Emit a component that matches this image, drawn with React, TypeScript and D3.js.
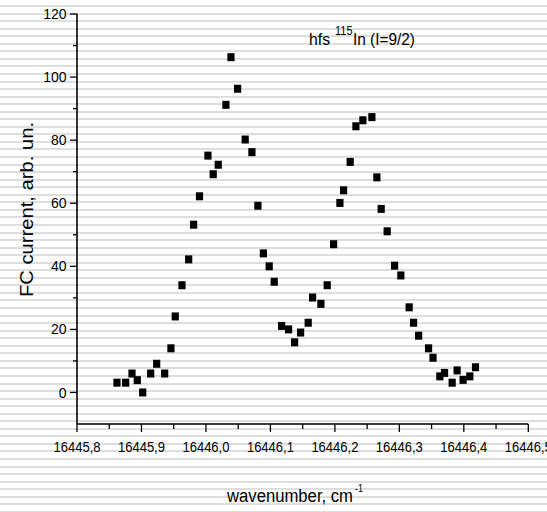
import React from 'react';
import * as d3 from 'd3';

const wavenumbers = [
  16445.862, 16445.8755, 16445.8853, 16445.8935, 16445.9019, 16445.9143, 16445.9236, 16445.936,
  16445.9457, 16445.9524, 16445.9628, 16445.9732, 16445.9809, 16445.99, 16446.0031, 16446.0113,
  16446.0191, 16446.031, 16446.0388, 16446.0491, 16446.0609, 16446.0713, 16446.0806, 16446.0891,
  16446.0981, 16446.1059, 16446.1174, 16446.1282, 16446.1375, 16446.1468, 16446.1586, 16446.1654,
  16446.1783, 16446.1881, 16446.198, 16446.2078, 16446.2135, 16446.2237, 16446.2326, 16446.2434,
  16446.2574, 16446.2651, 16446.2718, 16446.2811, 16446.2926, 16446.3023, 16446.3152, 16446.322,
  16446.3299, 16446.3453, 16446.3522, 16446.3628, 16446.3701, 16446.3819, 16446.3896, 16446.3989,
  16446.4093, 16446.4181,
];
const current = [
  3.1, 3.1, 6.0, 3.9, 0, 6.0, 9.1, 6.0,
  14.0, 24.1, 34.0, 42.2, 53.2, 62.2, 75.1, 69.2,
  72.2, 91.2, 106.3, 96.3, 80.2, 76.2, 59.2, 44.1,
  40.0, 35.1, 21.1, 20.0, 15.9, 19.0, 22.1, 30.1,
  28.1, 34.0, 47.0, 60.1, 64.1, 73.1, 84.4, 86.3,
  87.3, 68.2, 58.2, 51.1, 40.2, 37.1, 27.0, 22.1,
  18.0, 14.0, 11.0, 5.1, 6.2, 3.1, 7.0, 4.0,
  5.1, 8.0,
];
const xTicks = [16445.8, 16445.9, 16446.0, 16446.1, 16446.2, 16446.3, 16446.4, 16446.5];
const xTickLabels = ['16445,8', '16445,9', '16446,0', '16446,1', '16446,2', '16446,3', '16446,4', '16446,5'];
const xMinor = [16445.85, 16445.95, 16446.05, 16446.15, 16446.25, 16446.35, 16446.45];
const yTicks = [0, 20, 40, 60, 80, 100, 120];
const yMinor = [10, 30, 50, 70, 90, 110];

const FONT = "'Liberation Sans', Arial, sans-serif";

export default function App() {
  const W = 547, H = 512;
  const x = d3.scaleLinear().domain([16445.8, 16446.5]).range([77, 528.3]);
  const y = d3.scaleLinear().domain([-10, 120]).range([424, 14]);
  const stripes = d3.range(5, H, 7.55);
  const pts = wavenumbers.map((w, i) => ({ w, v: current[i] }));
  const x0 = x(16445.8), y0 = y(-10);

  return (
    <div style={{ position: 'fixed', left: 0, top: 0 }}>
      <svg width={W} height={H} style={{ display: 'block', background: '#fff' }} fontFamily={FONT}>
        <rect x={0} y={0} width={W} height={H} fill="#fff" />
        {stripes.map((s, i) => (
          <rect key={i} x={0} y={Math.round(s)} width={W} height={2} fill="#dedede" />
        ))}
        {/* axes */}
        <line x1={x0} y1={y(120)} x2={x0} y2={y0} stroke="#000" strokeWidth={1.6} />
        <line x1={x0} y1={y0} x2={x(16446.5)} y2={y0} stroke="#000" strokeWidth={1.6} />
        {xTicks.map((t, i) => (
          <g key={'xt' + i}>
            <line x1={x(t)} x2={x(t)} y1={y0} y2={y0 + 8} stroke="#000" strokeWidth={1.3} />
            <text x={x(t)} y={451.5} textAnchor="middle" fontSize={14} textLength={47} lengthAdjust="spacingAndGlyphs">
              {xTickLabels[i]}
            </text>
          </g>
        ))}
        {xMinor.map((t, i) => (
          <line key={'xm' + i} x1={x(t)} x2={x(t)} y1={y0} y2={y0 + 5} stroke="#000" strokeWidth={1.3} />
        ))}
        {yTicks.map((t, i) => (
          <g key={'yt' + i}>
            <line x1={x0 - 7} x2={x0} y1={y(t)} y2={y(t)} stroke="#000" strokeWidth={1.3} />
            <text x={x0 - 10.5} y={y(t)} dy="0.36em" textAnchor="end" fontSize={14}>
              {t}
            </text>
          </g>
        ))}
        {yMinor.map((t, i) => (
          <line key={'ym' + i} x1={x0 - 4} x2={x0} y1={y(t)} y2={y(t)} stroke="#000" strokeWidth={1.3} />
        ))}
        {/* points */}
        {pts.map((p, i) => (
          <rect key={'p' + i} x={x(p.w) - 3.6} y={y(p.v) - 4} width={7.2} height={8} fill="#000" />
        ))}
        {/* annotation */}
        <text x={309} y={45} fontSize={16} textLength={21} lengthAdjust="spacingAndGlyphs">hfs</text>
        <text x={335} y={35} fontSize={12} textLength={17.5} lengthAdjust="spacingAndGlyphs">115</text>
        <text x={353} y={45} fontSize={16} textLength={62} lengthAdjust="spacingAndGlyphs">In (I=9/2)</text>
        {/* axis titles */}
        <text x={227} y={501.7} fontSize={18} textLength={126} lengthAdjust="spacingAndGlyphs">wavenumber, cm</text>
        <text x={355} y={492} fontSize={11} textLength={8} lengthAdjust="spacingAndGlyphs">-1</text>
        <text
          transform={`translate(32.5,${(122 + 297) / 2}) rotate(-90)`}
          textAnchor="middle"
          fontSize={18}
          textLength={175}
          lengthAdjust="spacingAndGlyphs"
        >
          FC current, arb. un.
        </text>
      </svg>
    </div>
  );
}
